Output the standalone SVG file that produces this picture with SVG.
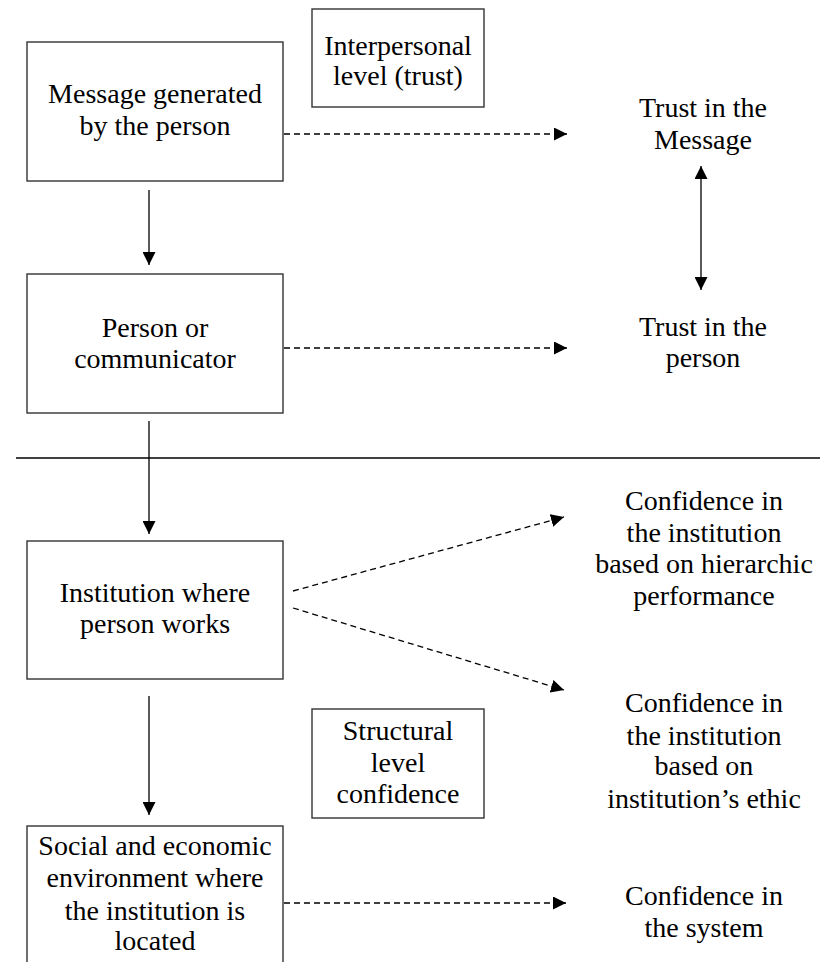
<svg xmlns="http://www.w3.org/2000/svg" width="820" height="962" viewBox="0 0 820 962">
<defs>
<marker id="ah" viewBox="0 0 13 13" refX="13" refY="6.5" markerWidth="13" markerHeight="13" markerUnits="userSpaceOnUse" orient="auto-start-reverse">
<path d="M0,0 L13,6.5 L0,13 Z" fill="#000"/>
</marker>
</defs>
<style>
.box{fill:#fff;stroke:#333;stroke-width:1.4}
.t{font-family:"Liberation Serif","Times New Roman",serif;font-size:28px;fill:#000;text-anchor:middle}
.solid{stroke:#000;stroke-width:1.3;fill:none}
.dash{stroke:#000;stroke-width:1.3;fill:none;stroke-dasharray:6 4}
</style>
<rect width="820" height="962" fill="#fff"/>
<g id="connectors">
<line class="solid" x1="16" y1="458" x2="820" y2="458"/>
<line class="solid" x1="149" y1="190" x2="149" y2="265" marker-end="url(#ah)"/>
<line class="solid" x1="149" y1="421" x2="149" y2="534" marker-end="url(#ah)"/>
<line class="solid" x1="149" y1="696" x2="149" y2="815" marker-end="url(#ah)"/>
<line class="solid" x1="701" y1="166" x2="701" y2="290" marker-start="url(#ah)" marker-end="url(#ah)"/>
<line class="dash" x1="284" y1="134" x2="567" y2="134" marker-end="url(#ah)"/>
<line class="dash" x1="284" y1="348" x2="567" y2="348" marker-end="url(#ah)"/>
<line class="dash" x1="293" y1="591" x2="564" y2="517" marker-end="url(#ah)"/>
<line class="dash" x1="293" y1="608" x2="564" y2="690" marker-end="url(#ah)"/>
<line class="dash" x1="284" y1="903" x2="566" y2="903" marker-end="url(#ah)"/>
</g>
<g id="message">
<rect class="box" x="27" y="42" width="256" height="139"/>
<text class="t" x="155" y="103">Message generated</text>
<text class="t" x="155" y="135">by the person</text>
</g>
<g id="interpersonal">
<rect class="box" x="312" y="9" width="172" height="98"/>
<text class="t" x="398" y="55">Interpersonal</text>
<text class="t" x="398" y="85">level (trust)</text>
</g>
<g id="person">
<rect class="box" x="27" y="274" width="256" height="139"/>
<text class="t" x="155" y="337">Person or</text>
<text class="t" x="155" y="368">communicator</text>
</g>
<g id="institution">
<rect class="box" x="27" y="541" width="256" height="138"/>
<text class="t" x="155" y="602">Institution where</text>
<text class="t" x="155" y="633">person works</text>
</g>
<g id="structural">
<rect class="box" x="312" y="709" width="172" height="109"/>
<text class="t" x="398" y="740">Structural</text>
<text class="t" x="398" y="772">level</text>
<text class="t" x="398" y="803">confidence</text>
</g>
<g id="environment">
<rect class="box" x="27" y="826" width="256" height="150"/>
<text class="t" x="155" y="855">Social and economic</text>
<text class="t" x="155" y="887">environment where</text>
<text class="t" x="155" y="920">the institution is</text>
<text class="t" x="155" y="950">located</text>
</g>
<g id="trust-message">
<text class="t" x="703" y="117">Trust in the</text>
<text class="t" x="703" y="149">Message</text>
</g>
<g id="trust-person">
<text class="t" x="703" y="336">Trust in the</text>
<text class="t" x="703" y="367">person</text>
</g>
<g id="conf-hierarchic">
<text class="t" x="704" y="510">Confidence in</text>
<text class="t" x="704" y="542">the institution</text>
<text class="t" x="704" y="573">based on hierarchic</text>
<text class="t" x="704" y="605">performance</text>
</g>
<g id="conf-ethic">
<text class="t" x="704" y="712">Confidence in</text>
<text class="t" x="704" y="745">the institution</text>
<text class="t" x="704" y="775">based on</text>
<text class="t" x="704" y="808">institution’s ethic</text>
</g>
<g id="conf-system">
<text class="t" x="704" y="905">Confidence in</text>
<text class="t" x="704" y="937">the system</text>
</g>
</svg>
